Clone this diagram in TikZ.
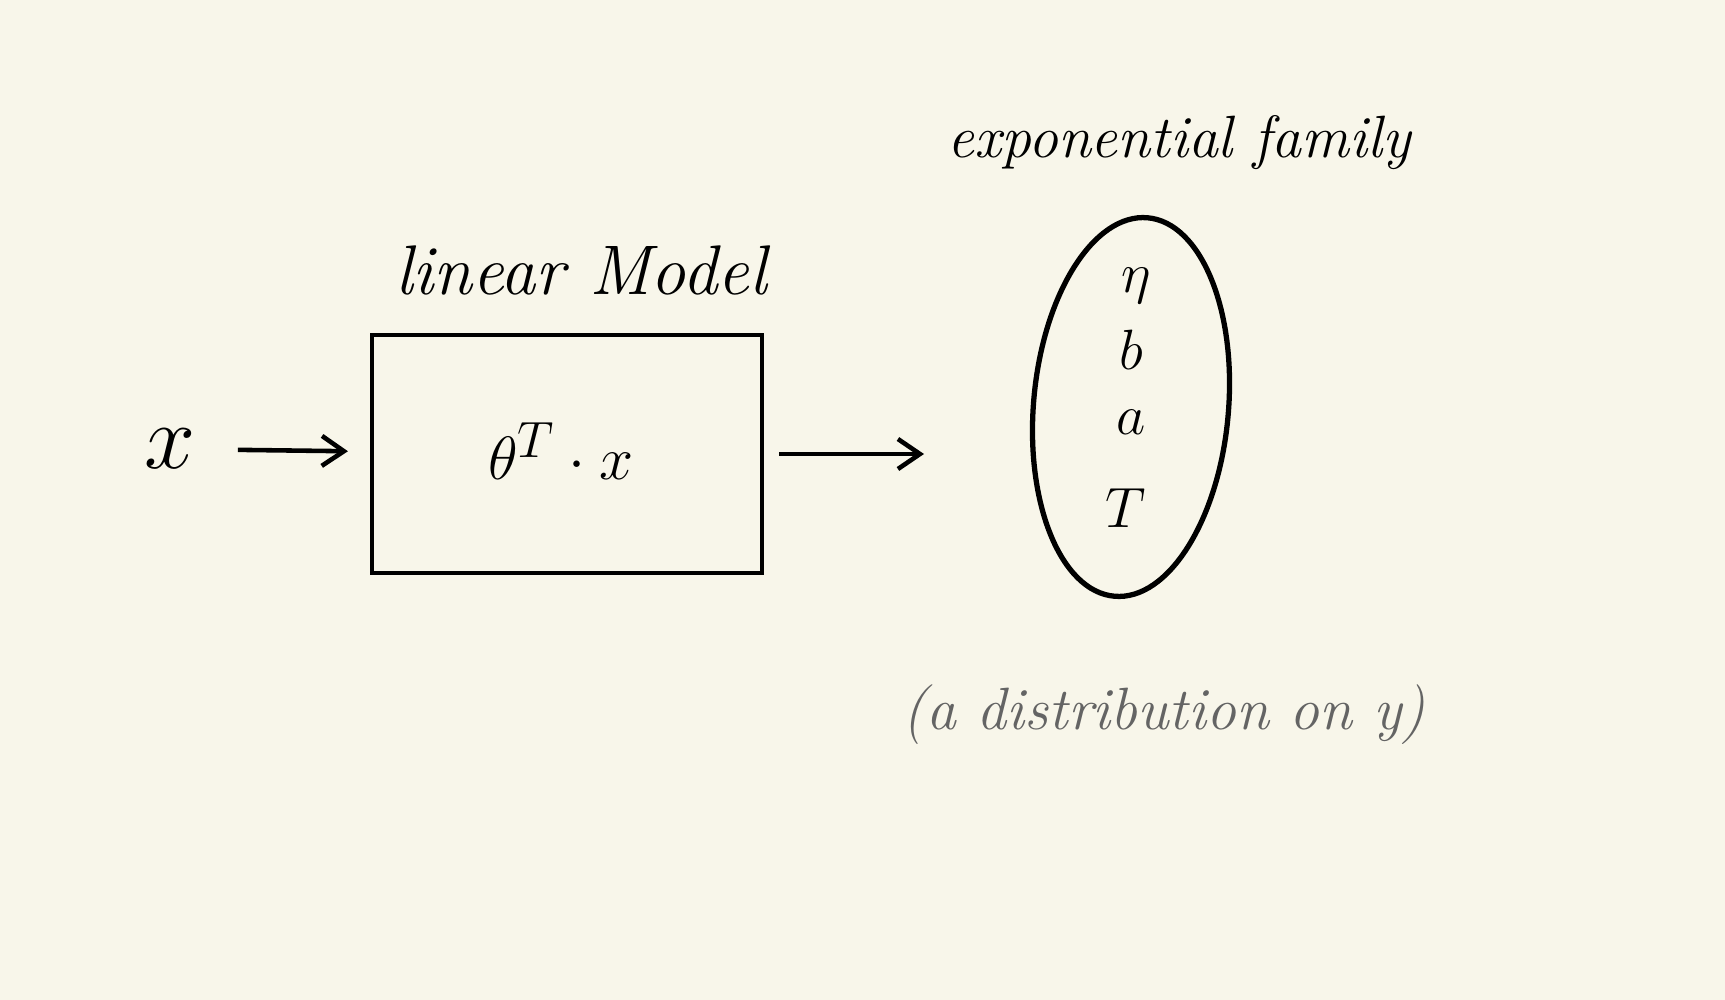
\documentclass[tikz,border=0pt]{standalone}
\usepackage{tikz}
\usepackage{amsmath}
\usetikzlibrary{shapes, arrows.meta, calc, positioning}
\definecolor{paper}{RGB}{248,246,234}
\definecolor{pencil}{RGB}{100,100,100}
\newcommand{\bigsym}[2][1.8]{\scalebox{#1}{\Huge$#2$}}

\begin{document}
\begin{tikzpicture}[x=0.02cm, y=-0.02cm, >={Straight Barb[length=4.4mm,width=6mm]}]
	\tikzstyle{format} = [draw, line width=2.4pt, inner sep=0pt]
	\tikzstyle{hand} = [inner sep=0pt, font=\fontsize{40}{48}\selectfont\itshape]
	\tikzstyle{sym} = [inner sep=0pt]

	\fill[paper] (0,0) rectangle (1725,1000);
	\useasboundingbox (0,0) rectangle (1725,1000);

	% input, model and distribution
	\path[->, line width=2.6pt]
		node[sym] (x) at (170,449) {\bigsym[2.1]{x}}
		node[format, minimum width=7.8cm, minimum height=4.76cm] (1) at (567,454) {}
		node[sym] (2) at (561,451) {\bigsym[1.4]{\theta^{T}\cdot x}}
		node[format, ellipse, line width=3pt, minimum width=3.9cm, minimum height=7.6cm, rotate=-5] (3) at (1131,407) {}
		coordinate (tip) at (924,454)

		(x) edge[shorten <=0.8cm, shorten >=0.44cm] (1)
		(1) edge[shorten <=0.3cm] (tip)
	;

	% parameters inside the ellipse
	\node[sym] (eta) at (1136,286) {\bigsym[1.3]{\eta}};
	\node[sym] (b) at (1131,350) {\bigsym[1.3]{b}};
	\node[sym] (a) at (1131,422) {\bigsym[1.3]{a}};
	\node[sym] (T) at (1126,508) {\bigsym[1.3]{T}};

	% labels
	\node[hand] (lin) at (581,270) {linear Model};
	\node[hand, font=\fontsize{34}{40}\selectfont\itshape] (exp) at (1179,143) {exponential family};
	\node[hand, font=\fontsize{34}{40}\selectfont\itshape, text=pencil] (dist) at (1164,715) {(a distribution on y)};
\end{tikzpicture}
\end{document}
